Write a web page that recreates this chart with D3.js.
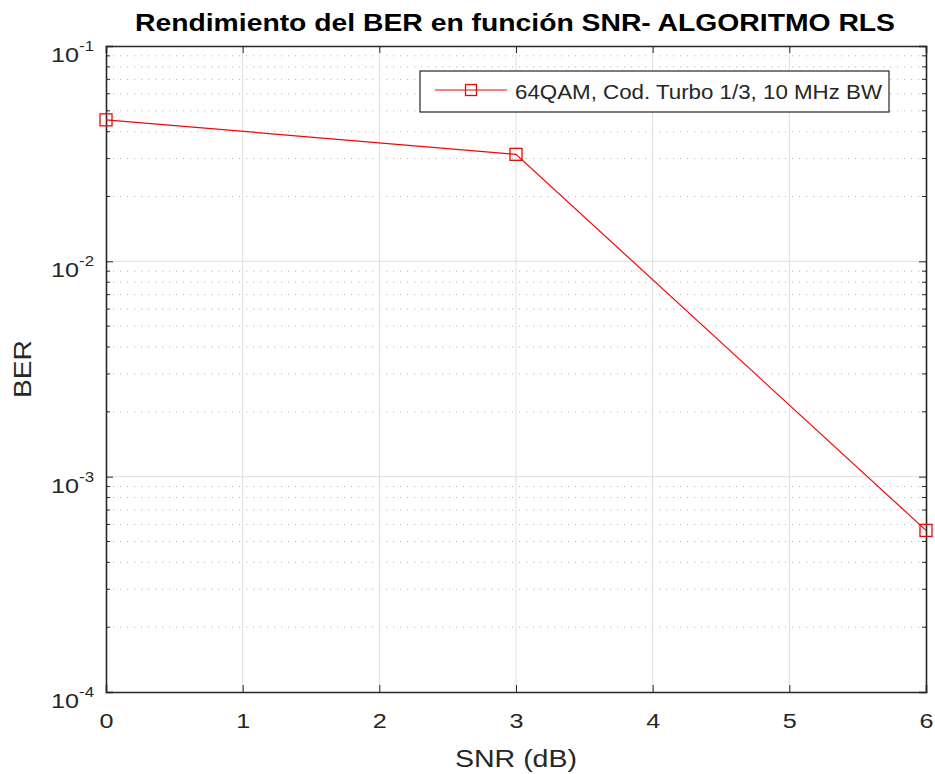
<!DOCTYPE html>
<html>
<head>
<meta charset="utf-8">
<script src="https://cdn.jsdelivr.net/npm/d3@7"></script>
<style>
  html, body { margin: 0; padding: 0; background: #fff; }
  svg { display: block; font-family: "Liberation Sans", Arial, Helvetica, sans-serif; }
</style>
</head>
<body>
<svg id="chart" width="935" height="774"></svg>
<script>
// BER vs SNR for the RLS equalizer
const snrValues = [0, 3, 6];
const berValues = [0.0454, 0.0314, 0.000563];
const xTicks = [0, 1, 2, 3, 4, 5, 6];
const yDecades = [-4, -3, -2, -1];
const seriesName = "64QAM, Cod. Turbo 1/3, 10 MHz BW";
const titleText = "Rendimiento del BER en función SNR- ALGORITMO RLS";
const xLabelText = "SNR (dB)";
const yLabelText = "BER";

const svg = d3.select("#chart");
const margin = { left: 106, right: 9, top: 46, bottom: 82 };
const W = 935, H = 774;
const x = d3.scaleLinear().domain([0, 6]).range([margin.left, W - margin.right]);
const y = d3.scaleLog().domain([1e-4, 1e-1]).range([H - margin.bottom, margin.top]);

const axisColor = "#262626";
const wide = 1.2; // horizontal glyph stretch used by the figure's text
const g = svg.append("g");

// minor (dotted) y grid at 2..9 of each decade
const minorVals = [];
yDecades.slice(0, 3).forEach(d => {
  for (let k = 2; k <= 9; k++) minorVals.push(k * Math.pow(10, d));
});
g.selectAll("line.minor").data(minorVals).enter().append("line")
  .attr("class", "minor")
  .attr("x1", x(0)).attr("x2", x(6))
  .attr("y1", d => y(d)).attr("y2", d => y(d))
  .attr("stroke", "#b8b8b8").attr("stroke-width", 1)
  .attr("stroke-dasharray", "1.2,5.8");

// major grid
g.selectAll("line.vgrid").data(xTicks.slice(1, -1)).enter().append("line")
  .attr("x1", d => x(d)).attr("x2", d => x(d))
  .attr("y1", y(1e-4)).attr("y2", y(1e-1))
  .attr("stroke", "#dedede").attr("stroke-width", 1);
g.selectAll("line.hgrid").data(yDecades.slice(1, -1)).enter().append("line")
  .attr("x1", x(0)).attr("x2", x(6))
  .attr("y1", d => y(Math.pow(10, d))).attr("y2", d => y(Math.pow(10, d)))
  .attr("stroke", "#dedede").attr("stroke-width", 1);

// axes with ticks pointing inward
const xAxisB = d3.axisBottom(x).tickValues(xTicks).tickSize(-7).tickPadding(21).tickFormat(d3.format("d"));
const xAxisT = d3.axisTop(x).tickValues(xTicks).tickSize(-7).tickFormat("");
const yAxisL = d3.axisLeft(y).tickValues(yDecades.map(d => Math.pow(10, d))).tickSize(-7).tickFormat("");
const yAxisR = d3.axisRight(y).tickValues(yDecades.map(d => Math.pow(10, d))).tickSize(-7).tickFormat("");

function styleAxis(sel) {
  sel.attr("font-family", null).attr("font-size", null);
  sel.select(".domain").attr("stroke", axisColor).attr("stroke-width", 1.6);
  sel.selectAll(".tick line").attr("stroke", axisColor).attr("stroke-width", 1);
  sel.selectAll(".tick text").attr("fill", axisColor).style("font-size", "21px")
    .attr("transform", `scale(${wide},1)`);
}
svg.append("g").attr("transform", `translate(0,${y(1e-4)})`).call(xAxisB).call(styleAxis);
svg.append("g").attr("transform", `translate(0,${y(1e-1)})`).call(xAxisT).call(styleAxis);
svg.append("g").attr("transform", `translate(${x(0)},0)`).call(yAxisL).call(styleAxis);
svg.append("g").attr("transform", `translate(${x(6)},0)`).call(yAxisR).call(styleAxis);

// minor ticks on left and right edges
[[x(0), 4], [x(6), -4]].forEach(([px, len]) => {
  svg.append("g").selectAll("line").data(minorVals).enter().append("line")
    .attr("x1", px).attr("x2", px + len)
    .attr("y1", d => y(d)).attr("y2", d => y(d))
    .attr("stroke", axisColor).attr("stroke-width", 1);
});

// y tick labels as 10^n
const yl = svg.append("g");
yDecades.forEach(d => {
  const t = yl.append("g")
    .attr("transform", `translate(${x(0) - 12},${y(Math.pow(10, d)) + 16}) scale(${wide},1)`)
    .append("text")
    .attr("text-anchor", "end").attr("fill", axisColor)
    .style("font-size", "21px");
  t.append("tspan").text("10");
  t.append("tspan").attr("dy", -11).style("font-size", "14px").text(String(d));
});

// data line and markers
const line = d3.line().x((d, i) => x(snrValues[i])).y(d => y(d));
svg.append("path").datum(berValues)
  .attr("d", line).attr("fill", "none")
  .attr("stroke", "#ff0000").attr("stroke-width", 1.2);
svg.append("g").selectAll("rect").data(berValues).enter().append("rect")
  .attr("x", (d, i) => x(snrValues[i]) - 6).attr("y", d => y(d) - 6)
  .attr("width", 12).attr("height", 12)
  .attr("fill", "none").attr("stroke", "#ff0000").attr("stroke-width", 1.3);

// legend
const lg = svg.append("g").attr("transform", "translate(420,71)");
lg.append("rect").attr("width", 469).attr("height", 41)
  .attr("fill", "#fff").attr("stroke", axisColor).attr("stroke-width", 1.2);
lg.append("line").attr("x1", 15).attr("x2", 87).attr("y1", 19).attr("y2", 19)
  .attr("stroke", "#ff0000").attr("stroke-width", 1.2);
lg.append("rect").attr("x", 45.5).attr("y", 13.5).attr("width", 11).attr("height", 11)
  .attr("fill", "none").attr("stroke", "#ff0000").attr("stroke-width", 1.3);
lg.append("text").attr("x", 95).attr("y", 28).attr("fill", axisColor)
  .attr("textLength", 367).attr("lengthAdjust", "spacingAndGlyphs")
  .style("font-size", "21px").text(seriesName);

// title and axis labels
svg.append("text").attr("x", 515).attr("y", 31).attr("text-anchor", "middle")
  .attr("textLength", 760).attr("lengthAdjust", "spacingAndGlyphs")
  .attr("fill", "#000").style("font-size", "23px").style("font-weight", "bold")
  .text(titleText);
svg.append("text").attr("x", 516).attr("y", 767).attr("text-anchor", "middle")
  .attr("textLength", 122).attr("lengthAdjust", "spacingAndGlyphs")
  .attr("fill", axisColor).style("font-size", "23px").text(xLabelText);
svg.append("text").attr("transform", "translate(31,369) rotate(-90)")
  .attr("text-anchor", "middle").attr("fill", axisColor)
  .attr("textLength", 58).attr("lengthAdjust", "spacingAndGlyphs")
  .style("font-size", "24px").text(yLabelText);
</script>
</body>
</html>
